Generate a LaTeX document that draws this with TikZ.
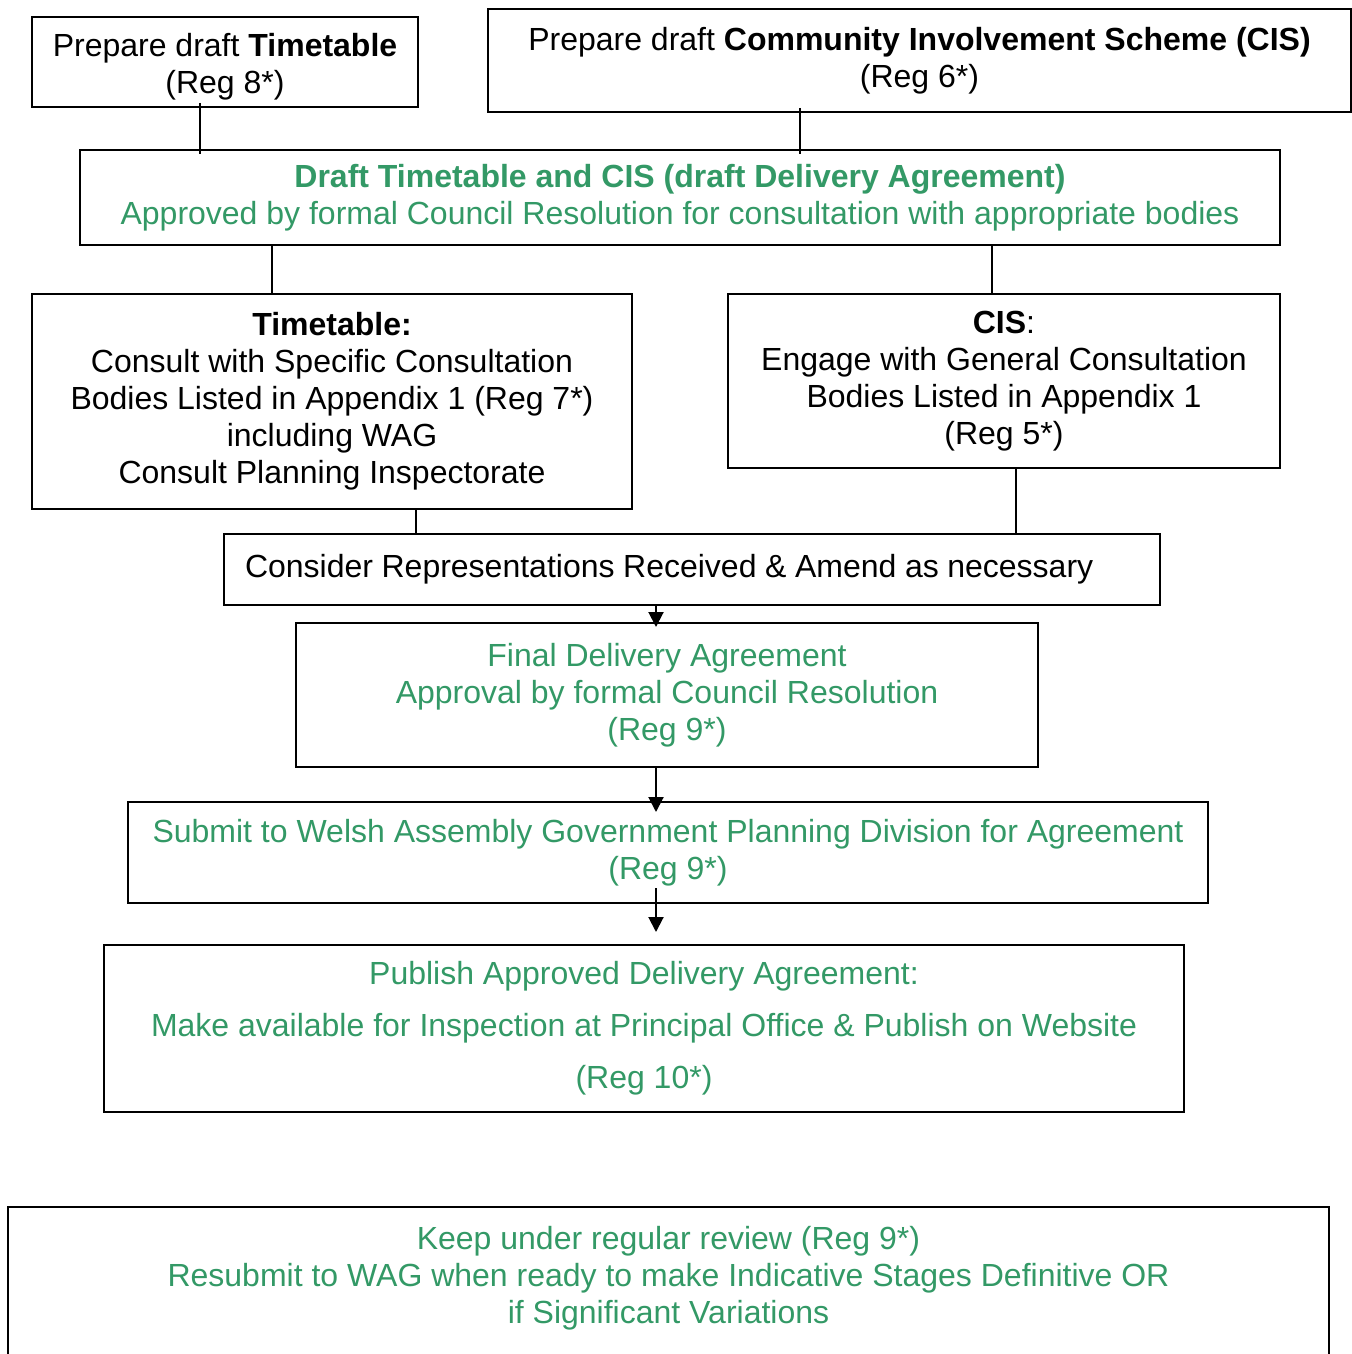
\documentclass[tikz,border=0pt]{standalone}
\usepackage{fontspec}
\setmainfont{Liberation Sans}
\usetikzlibrary{arrows.meta}
\definecolor{dagreen}{HTML}{339966}
\begin{document}
\begin{tikzpicture}[x=0.5pt,y=-0.5pt,
  box/.style={draw, line width=1pt, inner sep=0pt, align=center,
    font=\fontsize{16}{18.5}\selectfont},
  gr/.style={text=dagreen},
  link/.style={line width=1pt},
  flow/.style={line width=1pt, -{Triangle[width=7.5pt,length=7.5pt]}}]
\useasboundingbox (0,0) rectangle (1352,1354);
\clip (0,0) rectangle (1352,1354);

\node[box, minimum width=193pt, minimum height=45pt] (tt) at (225,62)
  {\rule{0pt}{16.6pt}Prepare draft \textbf{Timetable}\\(Reg 8*)};
\node[box, minimum width=431.5pt, minimum height=51.5pt] (cis) at (919.5,60.5)
  {Prepare draft \textbf{Community Involvement Scheme (CIS)}\\(Reg 6*)};
\node[box, gr, minimum width=600pt, minimum height=47.5pt] (draft) at (680,197.5)
  {\textbf{Draft Timetable and CIS (draft Delivery Agreement)}\\Approved by formal Council Resolution for consultation with appropriate bodies};
\node[box, minimum width=300pt, minimum height=107.5pt] (ttc) at (332,401.5)
  {\textbf{Timetable:}\\Consult with Specific Consultation\\Bodies Listed in Appendix 1 (Reg 7*)\\including WAG\\Consult Planning Inspectorate};
\node[box, minimum width=276pt, minimum height=87pt] (cisc) at (1004,381)
  {\textbf{CIS}:\\Engage with General Consultation\\Bodies Listed in Appendix 1\\(Reg 5*)};
\node[box, align=left, inner xsep=10.5pt, text width=447pt, minimum height=35.5pt] (cons) at (692,569.5)
  {\mbox{\spaceskip=0.268em\relax Consider Representations Received \& Amend as necessary}};
\node[box, gr, minimum width=371pt, minimum height=72pt] (fin) at (667,695)
  {Final Delivery Agreement\\Approval by formal Council Resolution\\(Reg 9*)};
\node[box, gr, minimum width=540pt, minimum height=50.5pt] (sub) at (668,852.5)
  {Submit to Welsh Assembly Government Planning Division for Agreement\\(Reg 9*)};
\node[box, gr, minimum width=540pt, minimum height=83.5pt,
  font=\fontsize{16}{26}\selectfont] (pub) at (644,1028.5)
  {Publish Approved Delivery Agreement:\\Make available for Inspection at Principal Office \& Publish on Website\\(Reg 10*)};
\node[box, gr, minimum width=660.5pt, minimum height=86.5pt] (keep) at (668.5,1293.5)
  {Keep under regular review (Reg 9*)\\Resubmit to WAG when ready to make Indicative Stages Definitive OR\\if Significant Variations\\\mbox{}};

\coordinate (xa) at (200,0);
\coordinate (xb) at (800,0);
\coordinate (xc) at (272,0);
\coordinate (xd) at (992,0);
\coordinate (xe) at (416,0);
\coordinate (xf) at (1016,0);
\coordinate (xg) at (656,0);

\draw[link, shorten <=-2.5pt, shorten >=-2.5pt] (tt.south -| xa) -- (draft.north -| xa);
\draw[link, shorten <=-2.5pt, shorten >=-2.5pt] (cis.south -| xb) -- (draft.north -| xb);
\draw[link] (draft.south -| xc) -- (ttc.north -| xc);
\draw[link] (draft.south -| xd) -- (cisc.north -| xd);
\draw[link] (ttc.south -| xe) -- (cons.north -| xe);
\draw[link] (cisc.south -| xf) -- (cons.north -| xf);

\draw[flow] (cons.south -| xg) -- ([yshift=-2.5pt]fin.north -| xg);
\draw[flow] (fin.south -| xg) -- ([yshift=-5.5pt]sub.north -| xg);
\draw[flow] ([yshift=8pt]sub.south -| xg) -- ([yshift=6pt]pub.north -| xg);
\end{tikzpicture}
\end{document}
